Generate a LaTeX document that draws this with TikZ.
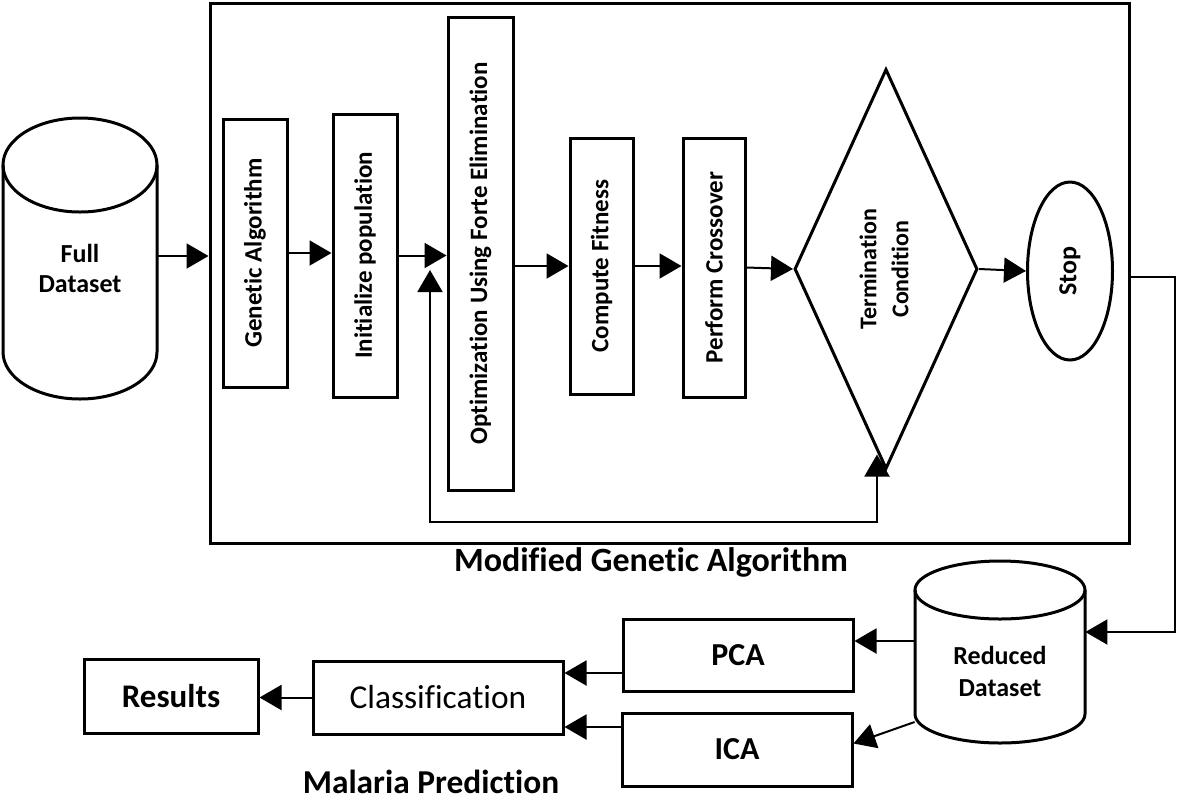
\documentclass[tikz,border=0pt]{standalone}
\usepackage{fontspec}
\setmainfont{Carlito}[Ligatures=NoCommon]
\usepackage{graphicx}
\usetikzlibrary{arrows.meta,shapes.geometric}

\begin{document}
\begin{tikzpicture}[x=0.5pt,y=-0.5pt,
    box/.style={draw, line width=1.5pt, inner sep=0pt},
    vbox/.style={box, font=\bfseries\fontsize{12.5}{15}\selectfont},
    hbox/.style={box, font=\bfseries\fontsize{16}{19}\selectfont},
    cyltext/.style={font=\bfseries\fontsize{13}{15}\selectfont, align=center, inner sep=0pt},
    arr/.style={line width=1pt, -{Triangle[length=11pt,width=12.5pt]}},
    dbl/.style={line width=1pt, {Triangle[length=11pt,width=12.5pt]}-{Triangle[length=11pt,width=12.5pt]}},
    cyl/.style={line width=1.5pt}]
        \useasboundingbox (0,0) rectangle (1180,800);

        % full dataset
        \draw[cyl] (80,165) ellipse [x radius=77, y radius=47];
        \draw[cyl] (3,165) -- (3,352) arc[start angle=180, end angle=0, x radius=77, y radius=47] -- (157,165);
        \node[cyltext, minimum width=77pt] (full) at (80,268) {Full\\Dataset};

        % modified genetic algorithm
        \node[vbox, minimum width=32pt, minimum height=134pt] (ga) at (255,253) {\rotatebox{90}{Genetic Algorithm}};
        \node[vbox, minimum width=32pt, minimum height=141.5pt] (init) at (365,255.5) {\rotatebox{90}{Initialize population}};
        \node[vbox, minimum width=32.5pt, minimum height=236.5pt] (opt) at (480.5,253.5) {\rotatebox{90}{Optimization Using Forte Elimination}};
        \node[vbox, minimum width=31.5pt, minimum height=128pt] (fit) at (601.5,266) {\rotatebox{90}{Compute Fitness}};
        \node[vbox, minimum width=31pt, minimum height=129.5pt] (cross) at (714,267.5) {\rotatebox{90}{Perform Crossover}};
        \node[box, diamond, aspect=0.45, minimum width=91.5pt, minimum height=200pt, font=\bfseries\fontsize{12}{16}\selectfont] (term) at (886,269)
            {\rotatebox{90}{\begin{tabular}{@{}c@{}}Termination\\Condition\end{tabular}}};
        \node[box, ellipse, minimum width=42.5pt, minimum height=89pt, font=\bfseries\fontsize{13}{15}\selectfont] (stop) at (1070,271) {\rotatebox{90}{Stop}};
        \node[box, minimum width=459.5pt, minimum height=270pt] (outer) at (669.5,273) {};
        \node[font=\bfseries\fontsize{17}{20}\selectfont] (mgatitle) at (651,562) {Modified Genetic Algorithm};

        % reduced dataset
        \draw[cyl] (1000,590) ellipse [x radius=85, y radius=29];
        \draw[cyl] (915,590) -- (915,714) arc[start angle=180, end angle=0, x radius=85, y radius=29] -- (1085,590);
        \node[cyltext, minimum width=85pt, font=\bfseries\fontsize{13}{16}\selectfont] (red) at (1000,671) {Reduced\\Dataset};

        % malaria prediction
        \node[hbox, minimum width=115pt, minimum height=36pt] (pca) at (738,655) {PCA};
        \node[hbox, minimum width=115pt, minimum height=36.5pt] (ica) at (737,749.5) {ICA};
        \node[box, font=\fontsize{16.7}{20}\selectfont, minimum width=125pt, minimum height=36.5pt] (cls) at (438,697.5) {Classification};
        \node[box, font=\bfseries\fontsize{16.5}{20}\selectfont, minimum width=87pt, minimum height=37pt] (res) at (171,696) {Results};
        \node[font=\bfseries\fontsize{16.7}{20}\selectfont] (malaria) at (431,782) {Malaria Prediction};

        % connectors
        \draw[arr] ([yshift=6pt]full.east) -- ([yshift=6pt]full.east -| outer.west);
        \draw[arr] (ga.east) -- (ga.east -| init.west);
        \draw[arr] (init.east) -- (init.east -| opt.west);
        \draw[arr] (opt.east |- fit.west) -- (fit.west);
        \draw[arr] (fit.east) -- (fit.east -| cross.west);
        \draw[arr] (cross.east) -- (term.west);
        \draw[arr] (term.east) -- (stop.west);

        \coordinate (loopin) at (430,270);
        \coordinate (looptip) at ([xshift=-4.5pt,yshift=8pt]term.south);
        \draw[dbl] (loopin) -- (loopin |- 0,522) -| (looptip);

        \draw[arr] ([yshift=-2pt]outer.east) -- ++(22pt,0) |- ([yshift=19.5pt]red.east);
        \draw[arr] ([yshift=15pt]red.west) -- ([yshift=15pt]red.west -| pca.east);
        \draw[arr] ([yshift=-25.5pt]red.west) -- ([yshift=3pt]ica.east);
        \draw[arr] ([yshift=-9pt]pca.west) -- ([yshift=-9pt]pca.west -| cls.east);
        \draw[arr] ([yshift=11.25pt]ica.west) -- ([yshift=11.25pt]ica.west -| cls.east);
        \draw[arr] (cls.west) -- (cls.west -| res.east);
\end{tikzpicture}
\end{document}
